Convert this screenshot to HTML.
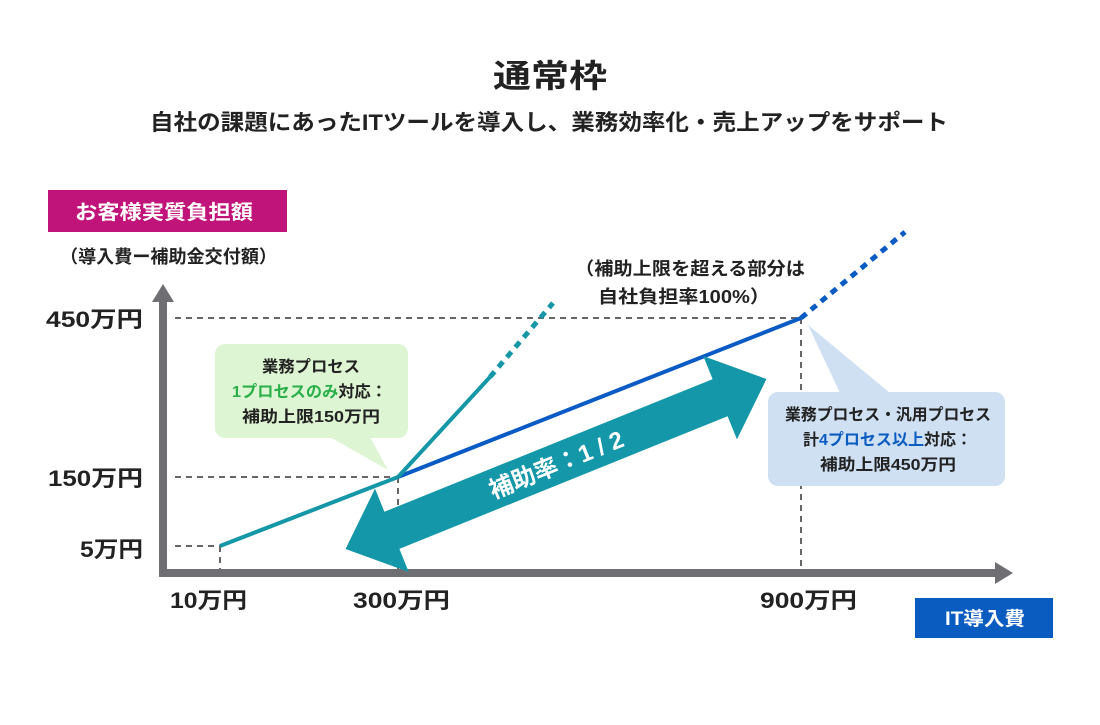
<!DOCTYPE html>
<html><head><meta charset="utf-8"><style>
body{margin:0;background:#fff;}
svg text{font-family:"Liberation Sans","Noto Sans CJK JP",sans-serif;font-weight:bold;}
</style></head><body>
<svg width="1100" height="720" viewBox="0 0 1100 720" xmlns="http://www.w3.org/2000/svg">
<rect width="1100" height="720" fill="#fff"/>
<text x="493" y="87" font-size="32" textLength="114" lengthAdjust="spacingAndGlyphs" fill="#222">通常枠</text>
<text x="150" y="130" font-size="22" textLength="798" lengthAdjust="spacingAndGlyphs" fill="#222">自社の課題にあったITツールを導入し、業務効率化・売上アップをサポート</text>
<rect x="48" y="190" width="239" height="42" fill="#c0147a"/>
<text x="75" y="219" font-size="20" textLength="178" lengthAdjust="spacingAndGlyphs" fill="#fff">お客様実質負担額</text>
<text x="60" y="263" font-size="18" textLength="217" lengthAdjust="spacingAndGlyphs" fill="#222">（導入費ー補助金交付額）</text>
<g stroke="#666" stroke-width="2" stroke-dasharray="6,5" fill="none">
<line x1="175" y1="318" x2="801" y2="318"/>
<line x1="175" y1="477" x2="398" y2="477"/>
<line x1="175" y1="546" x2="220" y2="546"/>
<line x1="220" y1="546" x2="220" y2="570"/>
<line x1="398" y1="477" x2="398" y2="570"/>
<line x1="801" y1="318" x2="801" y2="570"/>
</g>
<polygon points="163,284 152,302 174,302" fill="#6f6e73"/>
<rect x="159" y="300" width="8" height="277" fill="#6f6e73"/>
<rect x="159" y="569" width="840" height="8" fill="#6f6e73"/>
<polygon points="1013,573 995,562 995,584" fill="#6f6e73"/>
<text x="46" y="327" font-size="22" textLength="97" lengthAdjust="spacingAndGlyphs" fill="#222">450万円</text>
<text x="48" y="486" font-size="22" textLength="95" lengthAdjust="spacingAndGlyphs" fill="#222">150万円</text>
<text x="80" y="557" font-size="22" textLength="63" lengthAdjust="spacingAndGlyphs" fill="#222">5万円</text>
<text x="170" y="608" font-size="22" textLength="77" lengthAdjust="spacingAndGlyphs" fill="#222">10万円</text>
<text x="353" y="608" font-size="22" textLength="97" lengthAdjust="spacingAndGlyphs" fill="#222">300万円</text>
<text x="760" y="608" font-size="22" textLength="97" lengthAdjust="spacingAndGlyphs" fill="#222">900万円</text>
<rect x="915" y="598" width="138" height="40" fill="#0b5cc0"/>
<text x="945" y="625" font-size="19" textLength="80" lengthAdjust="spacingAndGlyphs" fill="#fff">IT導入費</text>
<text x="575" y="275" font-size="18" textLength="230" lengthAdjust="spacingAndGlyphs" fill="#222">（補助上限を超える部分は</text>
<text x="598" y="303" font-size="18" textLength="172" lengthAdjust="spacingAndGlyphs" fill="#222">自社負担率100%）</text>
<line x1="398" y1="477" x2="801" y2="318" stroke="#0a5bc4" stroke-width="4"/>
<line x1="801" y1="318" x2="905" y2="232" stroke="#0a5bc4" stroke-width="5" stroke-dasharray="7,6"/>
<line x1="220" y1="546" x2="398" y2="477" stroke="#1597a8" stroke-width="4"/>
<line x1="398" y1="477" x2="490" y2="377" stroke="#1597a8" stroke-width="4"/>
<line x1="490" y1="377" x2="553" y2="303" stroke="#1597a8" stroke-width="5" stroke-dasharray="7,6"/>
<g transform="translate(556,464) rotate(-22)">
<polygon points="-227,0 -177,-45 -177,-20 177,-20 177,-45 227,0 177,45 177,20 -177,20 -177,45" fill="#1497a8"/>
<text x="0" y="9" font-size="24" text-anchor="middle" fill="#fff">補助率：1 / 2</text>
</g>
<rect x="215" y="344" width="193" height="94" rx="10" fill="#def5d3"/>
<polygon points="330,437 370,437 388,470" fill="#def5d3"/>
<text x="262" y="372" font-size="16" textLength="98" lengthAdjust="spacingAndGlyphs" fill="#222">業務プロセス</text>
<text x="232" y="397" font-size="16" textLength="155" lengthAdjust="spacingAndGlyphs" fill="#222"><tspan fill="#2ab04a">1プロセスのみ</tspan>対応：</text>
<text x="242" y="422" font-size="16" textLength="138" lengthAdjust="spacingAndGlyphs" fill="#222">補助上限150万円</text>
<rect x="768" y="392" width="237" height="94" rx="10" fill="#cfe0f3"/>
<polygon points="808,325 840,393 890,393" fill="#cfe0f3"/>
<text x="785" y="420" font-size="16" textLength="206" lengthAdjust="spacingAndGlyphs" fill="#222">業務プロセス・汎用プロセス</text>
<text x="803" y="445" font-size="16" textLength="169" lengthAdjust="spacingAndGlyphs" fill="#222">計<tspan fill="#0b5cc0">4プロセス以上</tspan>対応：</text>
<text x="820" y="470" font-size="16" textLength="136" lengthAdjust="spacingAndGlyphs" fill="#222">補助上限450万円</text>
</svg>
</body></html>
